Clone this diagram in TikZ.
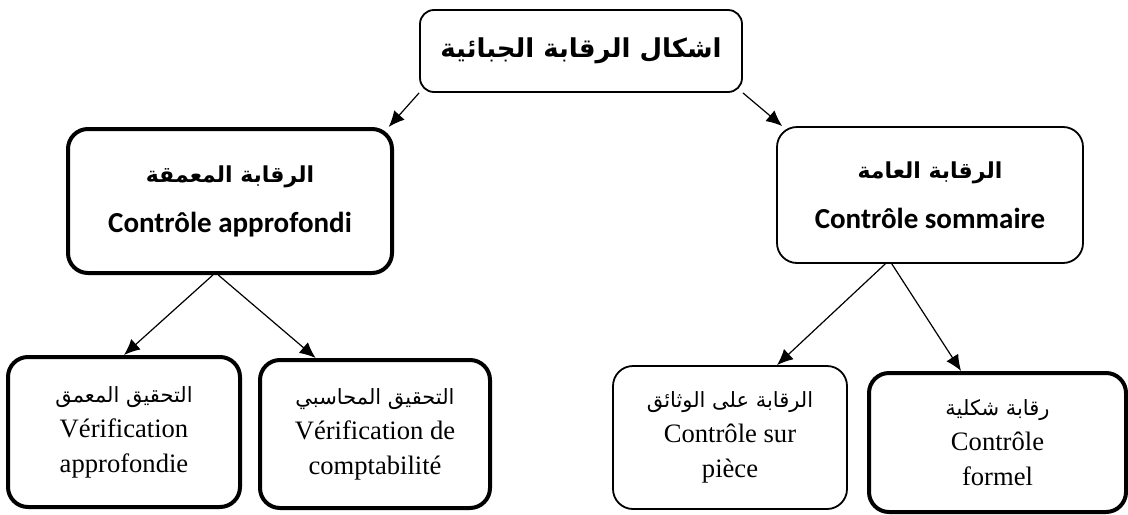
\documentclass[tikz,border=0pt]{standalone}
\usepackage{fontspec}
\setmainfont{Liberation Serif}
\newfontfamily\arabicfont[Script=Arabic]{DejaVu Sans}
\newfontfamily\calibrifont{Carlito}
\TeXXeTstate=1
\usetikzlibrary{arrows.meta}

\begin{document}
\begin{tikzpicture}[x=0.5pt,y=-0.5pt,
  box/.style={draw,rounded corners=10pt,align=center,inner sep=0pt},
  thinbox/.style={box,line width=0.9pt},
  thickbox/.style={box,line width=2pt},
  midtext/.style={font=\fontsize{14.5}{25}\selectfont},
  lowtext/.style={font=\fontsize{13.3}{17.5}\selectfont},
  arr/.style={-{Latex[length=8pt,width=7pt]},line width=0.6pt}]

  \useasboundingbox (0,0) rectangle (1128,514);

  % top
  \node[thinbox,rounded corners=7pt,minimum width=161pt,minimum height=41pt] (forms) at (581,51)
    {\arabicfont\bfseries\fontsize{13}{16}\selectfont\beginR اشكال الرقابة الجبائية\endR};

  % middle row
  \node[thickbox,midtext,minimum width=162pt,minimum height=72pt] (deep) at (230,201)
    {{\arabicfont\bfseries\fontsize{11}{25}\selectfont\beginR الرقابة المعمقة\endR}\\
     {\calibrifont\bfseries Contrôle approfondi}};
  \node[thinbox,midtext,minimum width=153pt,minimum height=68pt] (general) at (930,195)
    {{\arabicfont\bfseries\fontsize{11}{25}\selectfont\beginR الرقابة العامة\endR}\\
     {\calibrifont\bfseries Contrôle sommaire}};

  % bottom row
  \node[thickbox,lowtext,minimum width=116pt,minimum height=75pt] (vdeep) at (124,432)
    {{\arabicfont\fontsize{10.5}{17.5}\selectfont\beginR التحقيق المعمق\endR}\\ Vérification\\ approfondie};
  \node[thickbox,lowtext,minimum width=115pt,minimum height=74pt] (vacc) at (375,434)
    {{\arabicfont\fontsize{10.5}{17.5}\selectfont\beginR التحقيق المحاسبي\endR}\\ Vérification de\\ comptabilité};
  \node[thinbox,lowtext,minimum width=117pt,minimum height=71.5pt] (vdoc) at (730,437.5)
    {{\arabicfont\fontsize{10.5}{17.5}\selectfont\beginR الرقابة على الوثائق\endR}\\ Contrôle sur\\ pièce};
  \node[thickbox,lowtext,minimum width=128.5pt,minimum height=69.5pt] (vform) at (997.5,442.5)
    {{\arabicfont\fontsize{10.5}{17.5}\selectfont\beginR رقابة شكلية\endR}\\ Contrôle\\ formel};

  \draw[arr] (forms.south west) -- (deep.25);
  \draw[arr] (forms.south east) -- (general.155);
  \draw[arr] (deep.257) -- (vdeep.north);
  \draw[arr] (deep.261) -- (vacc.128);
  \draw[arr] (general.237) -- (vdoc.57);
  \draw[arr] (general.241) -- (vform.117);

\end{tikzpicture}
\end{document}
